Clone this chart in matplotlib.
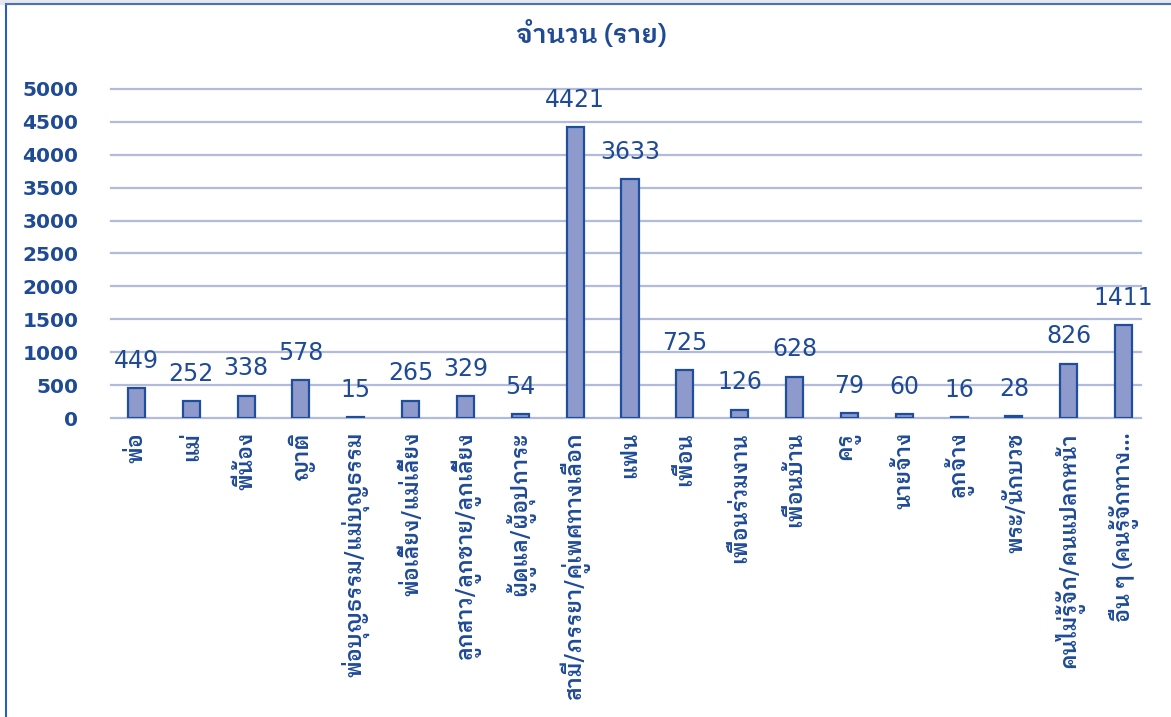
import matplotlib
matplotlib.use("Agg")
import matplotlib.pyplot as plt
from matplotlib.patches import Rectangle
from matplotlib.lines import Line2D
import numpy as np

categories = [
    "พ่อ", "แม่", "พี่น้อง", "ญาติ", "พ่อบุญธรรม/แม่บุญธรรม",
    "พ่อเลี้ยง/แม่เลี้ยง", "ลูกสาว/ลูกชาย/ลูกเลี้ยง", "ผู้ดูแล/ผู้อุปการะ",
    "สามี/ภรรยา/คู่เพศทางเลือก", "แฟน", "เพื่อน", "เพื่อนร่วมงาน",
    "เพื่อนบ้าน", "ครู", "นายจ้าง", "ลูกจ้าง", "พระ/นักบวช",
    "คนไม่รู้จัก/คนแปลกหน้า", "อื่น ๆ (คนรู้จักทาง…",
]
values = [449, 252, 338, 578, 15, 265, 329, 54, 4421, 3633,
          725, 126, 628, 79, 60, 16, 28, 826, 1411]
yticks = [0, 500, 1000, 1500, 2000, 2500, 3000, 3500, 4000, 4500, 5000]
title = "จำนวน (ราย)"

text_blue = "#1F4A96"
bar_fill = "#8E9ACB"
bar_edge = "#1F4E9E"
grid_col = "#B3BBDD"
thai = ["IBM Plex Sans Thai Looped", "DejaVu Sans"]

fig = plt.figure(figsize=(11.71, 7.17), dpi=100)
ax = fig.add_axes([0.093, 0.417, 0.890, 0.459])

x = np.arange(len(categories))
bars = ax.bar(x, values, width=0.31, color=bar_fill, edgecolor=bar_edge,
              linewidth=1.6, zorder=3)

for b, v in zip(bars, values):
    ax.annotate(str(v), (b.get_x() + b.get_width() / 2, v),
                xytext=(0, 11), textcoords="offset points",
                ha="center", va="bottom", fontsize=17, color=text_blue,
                family="DejaVu Sans", zorder=4)

ax.set_xlim(-0.5, len(categories) - 0.5)
ax.set_ylim(0, 5000)
ax.set_yticks(yticks)
ax.set_yticklabels([str(t) for t in yticks], fontsize=14.5,
                   fontweight="bold", color=text_blue)
ax.tick_params(axis="y", length=0, pad=22)
ax.tick_params(axis="x", length=0, pad=10)
ax.set_xticks(x)
ax.set_xticklabels(categories, rotation=90, ha="center", va="top",
                   fontsize=15.5, fontweight="semibold", color=text_blue,
                   family=thai)

for t in yticks:
    ax.axhline(t, xmin=0.002, xmax=0.99, color=grid_col, linewidth=1.6,
               zorder=0, clip_on=False)
for s in ax.spines.values():
    s.set_visible(False)

fig.text(0.505, 0.953, title, ha="center", va="center", fontsize=19,
         fontweight="semibold", color=text_blue, family=thai)

# outer chart frame (top and left edges visible)
fig.patches.append(Rectangle((0, 0.994), 1, 0.006, transform=fig.transFigure,
                             color="#E6E8EE", zorder=0))
fig.lines.append(Line2D([0.0055, 0.0055], [0, 0.994], transform=fig.transFigure,
                        color="#2F5FB5", linewidth=1.5))
fig.lines.append(Line2D([0.0055, 1], [0.994, 0.994], transform=fig.transFigure,
                        color="#4A72B8", linewidth=1.5))

fig.savefig("out.png", dpi=100)
